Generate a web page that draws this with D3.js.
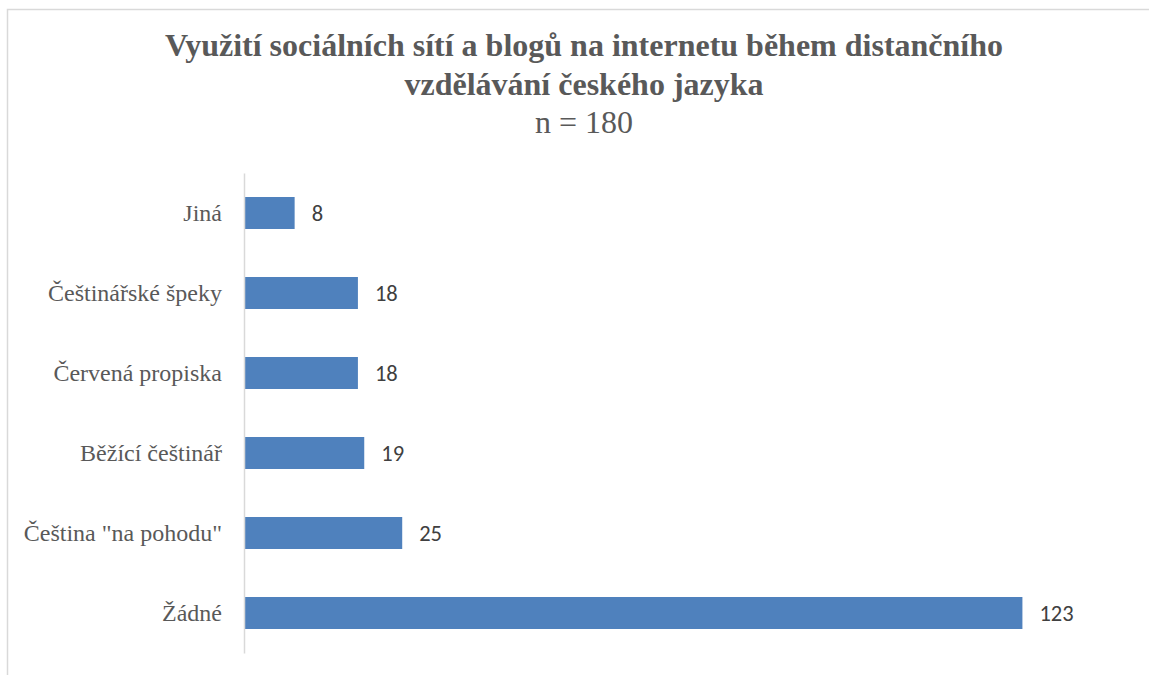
<!DOCTYPE html>
<html>
<head>
<meta charset="utf-8">
<script src="https://cdn.jsdelivr.net/npm/d3@7"></script>
<style>
  body { margin: 0; background: #fff; }
</style>
</head>
<body>
<script>
var categories = ["Jiná", "Češtinářské špeky", "Červená propiska", "Běžící češtinář", "Čeština \"na pohodu\"", "Žádné"];
var values = [8, 18, 18, 19, 25, 123];
var titleLines = ["Využití sociálních sítí a blogů na internetu během distančního", "vzdělávání českého jazyka"];
var subtitle = "n = 180";

var width = 1149, height = 675;

var svg = d3.select("body").append("svg")
    .attr("width", width)
    .attr("height", height);

// chart area border
svg.append("rect")
    .attr("x", 7.5).attr("y", 9.5)
    .attr("width", 1150).attr("height", 680)
    .attr("fill", "none")
    .attr("stroke", "#d9d9d9")
    .attr("stroke-width", 1.5);

// title
svg.selectAll(".title").data(titleLines).enter().append("text")
    .attr("class", "title")
    .attr("text-anchor", "middle")
    .attr("x", 584)
    .attr("y", (d, i) => 56 + i * 38.5)
    .attr("font-family", "Liberation Serif")
    .attr("font-weight", "bold")
    .attr("font-size", 32)
    .attr("fill", "#595959")
    .text(d => d);
svg.append("text")
    .attr("text-anchor", "middle")
    .attr("x", 584).attr("y", 133)
    .attr("font-family", "Liberation Serif")
    .attr("font-size", 32)
    .attr("fill", "#595959")
    .text(subtitle);

var x = d3.scaleLinear().domain([0, 140]).range([244, 1130]);
var y = d3.scaleBand().domain(categories).range([173, 653]).paddingInner(0.6).paddingOuter(0.3);

svg.append("g").selectAll("rect")
    .data(values)
    .enter().append("rect")
    .attr("x", x(0))
    .attr("y", (d, i) => y(categories[i]))
    .attr("width", d => x(d) - x(0))
    .attr("height", y.bandwidth())
    .attr("fill", "#4f81bd");

// category axis
var yAxis = svg.append("g")
    .attr("transform", "translate(" + x(0) + ",0)")
    .call(d3.axisLeft(y).tickSize(0).tickPadding(22))
    .attr("font-family", "Liberation Serif")
    .attr("font-size", 24);
yAxis.select(".domain").attr("stroke", "#d9d9d9").attr("stroke-width", 1.5);
yAxis.selectAll("text")
    .attr("dy", "0.32em")
    .attr("fill", "#595959");

// value labels
svg.append("g").selectAll("text")
    .data(values)
    .enter().append("text")
    .attr("x", d => x(d) + 17)
    .attr("y", (d, i) => y(categories[i]) + y.bandwidth() / 2)
    .attr("dy", "0.36em")
    .attr("font-family", "Carlito")
    .attr("font-size", 22.5)
    .attr("fill", "#404040")
    .text(d => d);
</script>
</body>
</html>
